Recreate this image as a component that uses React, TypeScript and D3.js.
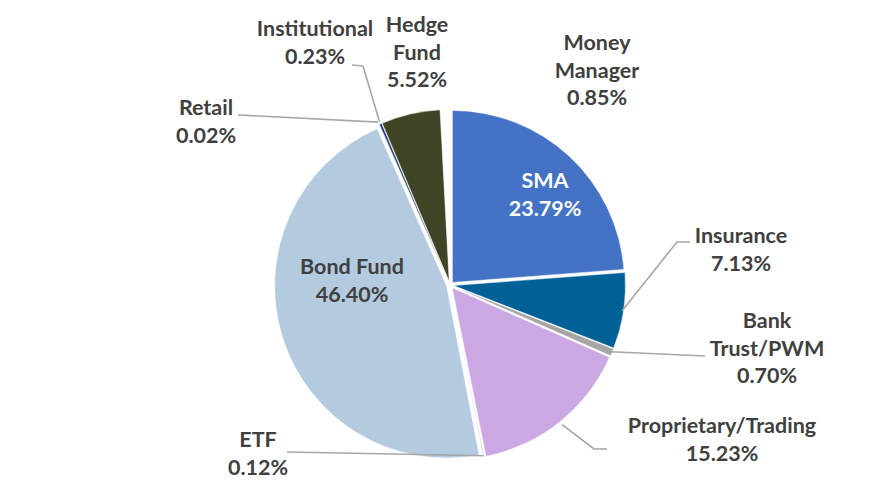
import React from 'react';
import * as d3 from 'd3';

const categories = ['SMA', 'Insurance', 'Bank Trust/PWM', 'Proprietary/Trading', 'ETF', 'Bond Fund', 'Retail', 'Institutional', 'Hedge Fund', 'Money Manager'];
const shares = [23.79, 7.13, 0.70, 15.23, 0.12, 46.40, 0.02, 0.23, 5.52, 0.85];
const colors = ['#4472C4', '#006197', '#A5A5A5', '#CBA8E3', '#D9D9D9', '#B3CADF', '#7F7F7F', '#203F78', '#3F4424', '#FFFFFF'];
// label lines as shown in the chart
const labelLines = [
  ['SMA'], ['Insurance'], ['Bank', 'Trust/PWM'], ['Proprietary/Trading'], ['ETF'],
  ['Bond Fund'], ['Retail'], ['Institutional'], ['Hedge', 'Fund'], ['Money', 'Manager'],
];

const width = 877;
const height = 491;
const cx = 450;
const cy = 285;
const radius = 172;
const explode = 3.5;
const lineH = 27.5;

// label anchor (centre x, first baseline y), inside flag
const labelPos = [
  { x: 545, y: 188, inside: true },
  { x: 741, y: 243 },
  { x: 767, y: 328 },
  { x: 722, y: 433 },
  { x: 258, y: 447 },
  { x: 352, y: 274, inside: true },
  { x: 206, y: 115 },
  { x: 315, y: 36 },
  { x: 417, y: 32 },
  { x: 597, y: 50 },
];

// leader line knees on the label side (null = no line)
const leaderKnees: (number[][] | null)[] = [
  null,
  [[690, 242], [677, 242]],
  [[705, 356]],
  [[607, 449], [594, 449]],
  [[287, 452]],
  null,
  [[238, 115]],
  [[352, 65], [363, 66]],
  null,
  null,
];
const leaderR = [0, 174, 174, 179, 174, 0, 178, 178, 0, 0];

const App = () => {
  const data = categories.map((c, i) => ({ name: c, value: shares[i], i }));
  const arcs = d3.pie<any>().sort(null).value(d => d.value)(data);
  const arcGen = d3.arc<any>().innerRadius(0).outerRadius(radius);
  const font = 'Lato, "Open Sans", sans-serif';

  return (
    <svg width={width} height={height} style={{ display: 'block', position: 'absolute', left: 0, top: 0 }}>
      <rect width={width} height={height} fill="#fff" />
      <g transform={`translate(${cx},${cy})`}>
        {arcs.map(a => {
          const mid = (a.startAngle + a.endAngle) / 2;
          const dx = Math.sin(mid) * explode;
          const dy = -Math.cos(mid) * explode;
          return (
            <path key={a.data.name} d={arcGen(a) || ''} transform={`translate(${dx},${dy})`}
              fill={colors[a.index]} stroke="#fff" strokeWidth={0.5} />
          );
        })}
      </g>
      {arcs.map(a => {
        const knees = leaderKnees[a.index];
        if (!knees) return null;
        const mid = (a.startAngle + a.endAngle) / 2;
        const r = leaderR[a.index];
        const px = cx + Math.sin(mid) * r;
        const py = cy - Math.cos(mid) * r;
        const pts = [...knees, [px, py]];
        return (
          <polyline key={'l' + a.index} points={pts.map(p => p.join(',')).join(' ')}
            fill="none" stroke="#A6A6A6" strokeWidth={1.6} />
        );
      })}
      {arcs.map(a => {
        const pos = labelPos[a.index];
        const lines = [...labelLines[a.index], `${a.data.value.toFixed(2)}%`];
        return (
          <text key={'t' + a.index} x={pos.x} textAnchor="middle" fontFamily={font} fontWeight="bold"
            fontSize={21.5} fill={pos.inside && a.index === 0 ? '#fff' : '#404040'}>
            {lines.map((ln, k) => (
              <tspan key={k} x={pos.x} y={pos.y + k * lineH}>{ln}</tspan>
            ))}
          </text>
        );
      })}
    </svg>
  );
};

export default App;
